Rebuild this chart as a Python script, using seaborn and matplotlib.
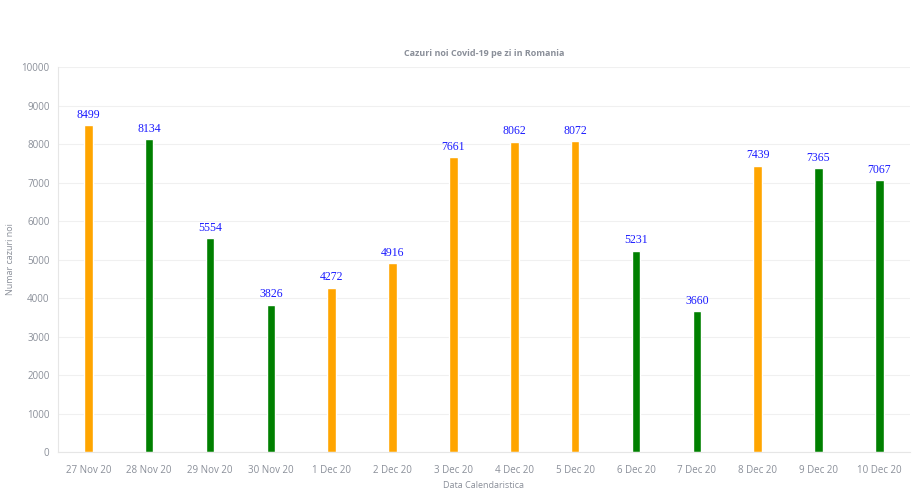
import matplotlib
matplotlib.use("Agg")
import matplotlib.pyplot as plt
import seaborn as sns
import pandas as pd

dates = ["27 Nov 20", "28 Nov 20", "29 Nov 20", "30 Nov 20", "1 Dec 20", "2 Dec 20",
         "3 Dec 20", "4 Dec 20", "5 Dec 20", "6 Dec 20", "7 Dec 20", "8 Dec 20",
         "9 Dec 20", "10 Dec 20"]
cases = [8499, 8134, 5554, 3826, 4272, 4916, 7661, 8062, 8072, 5231, 3660, 7439, 7365, 7067]
trend = ["up", "down", "down", "down", "up", "up", "up", "up", "up", "down", "down", "up", "down", "down"]
yticks = list(range(0, 10001, 1000))

df = pd.DataFrame({"date": dates, "cases": cases, "trend": trend})

sns.set_theme(style="white")
plt.rcParams["font.family"] = ["Open Sans", "DejaVu Sans"]

fig = plt.figure(figsize=(9.19, 4.91), dpi=100)
ax = fig.add_axes([0.063, 0.0794, 0.927, 0.7841])

sns.barplot(data=df, x="date", y="cases", hue="trend",
            palette={"up": "#FFA500", "down": "#008000"},
            dodge=False, width=0.14, legend=False, ax=ax, saturation=1)

for i, v in enumerate(cases):
    ax.text(i, v + 110, str(v), ha="center", va="bottom", color="#1a1aff",
            fontsize=8.5, family="Liberation Serif")

ax.set_xlim(-0.5, len(dates) - 0.5)
ax.set_ylim(0, 10000)
ax.set_yticks(yticks)
ax.set_yticklabels([str(t) for t in yticks])
ax.grid(axis="y", color="#f0f0f0", linewidth=0.8)
ax.set_axisbelow(True)
for s in ["top", "right"]:
    ax.spines[s].set_visible(False)
ax.spines["left"].set_color("#e6e6e6")
ax.spines["bottom"].set_color("#e6e6e6")
ax.spines["left"].set_linewidth(0.8)
ax.spines["bottom"].set_linewidth(0.8)
ax.tick_params(axis="both", length=0, labelsize=7, labelcolor="#8a8f99", pad=6)
ax.tick_params(axis="x", pad=9)

ax.set_title("Cazuri noi Covid-19 pe zi in Romania", fontsize=6.5, fontweight="bold",
             color="#8a8f99", pad=8)
ax.set_ylabel("Numar cazuri noi", fontsize=6.5, color="#8a8f99")
ax.yaxis.set_label_coords(-0.05, 0.5)
ax.set_xlabel("Data Calendaristica", fontsize=6.5, color="#8a8f99", labelpad=4)

fig.savefig("out.png", dpi=100)
